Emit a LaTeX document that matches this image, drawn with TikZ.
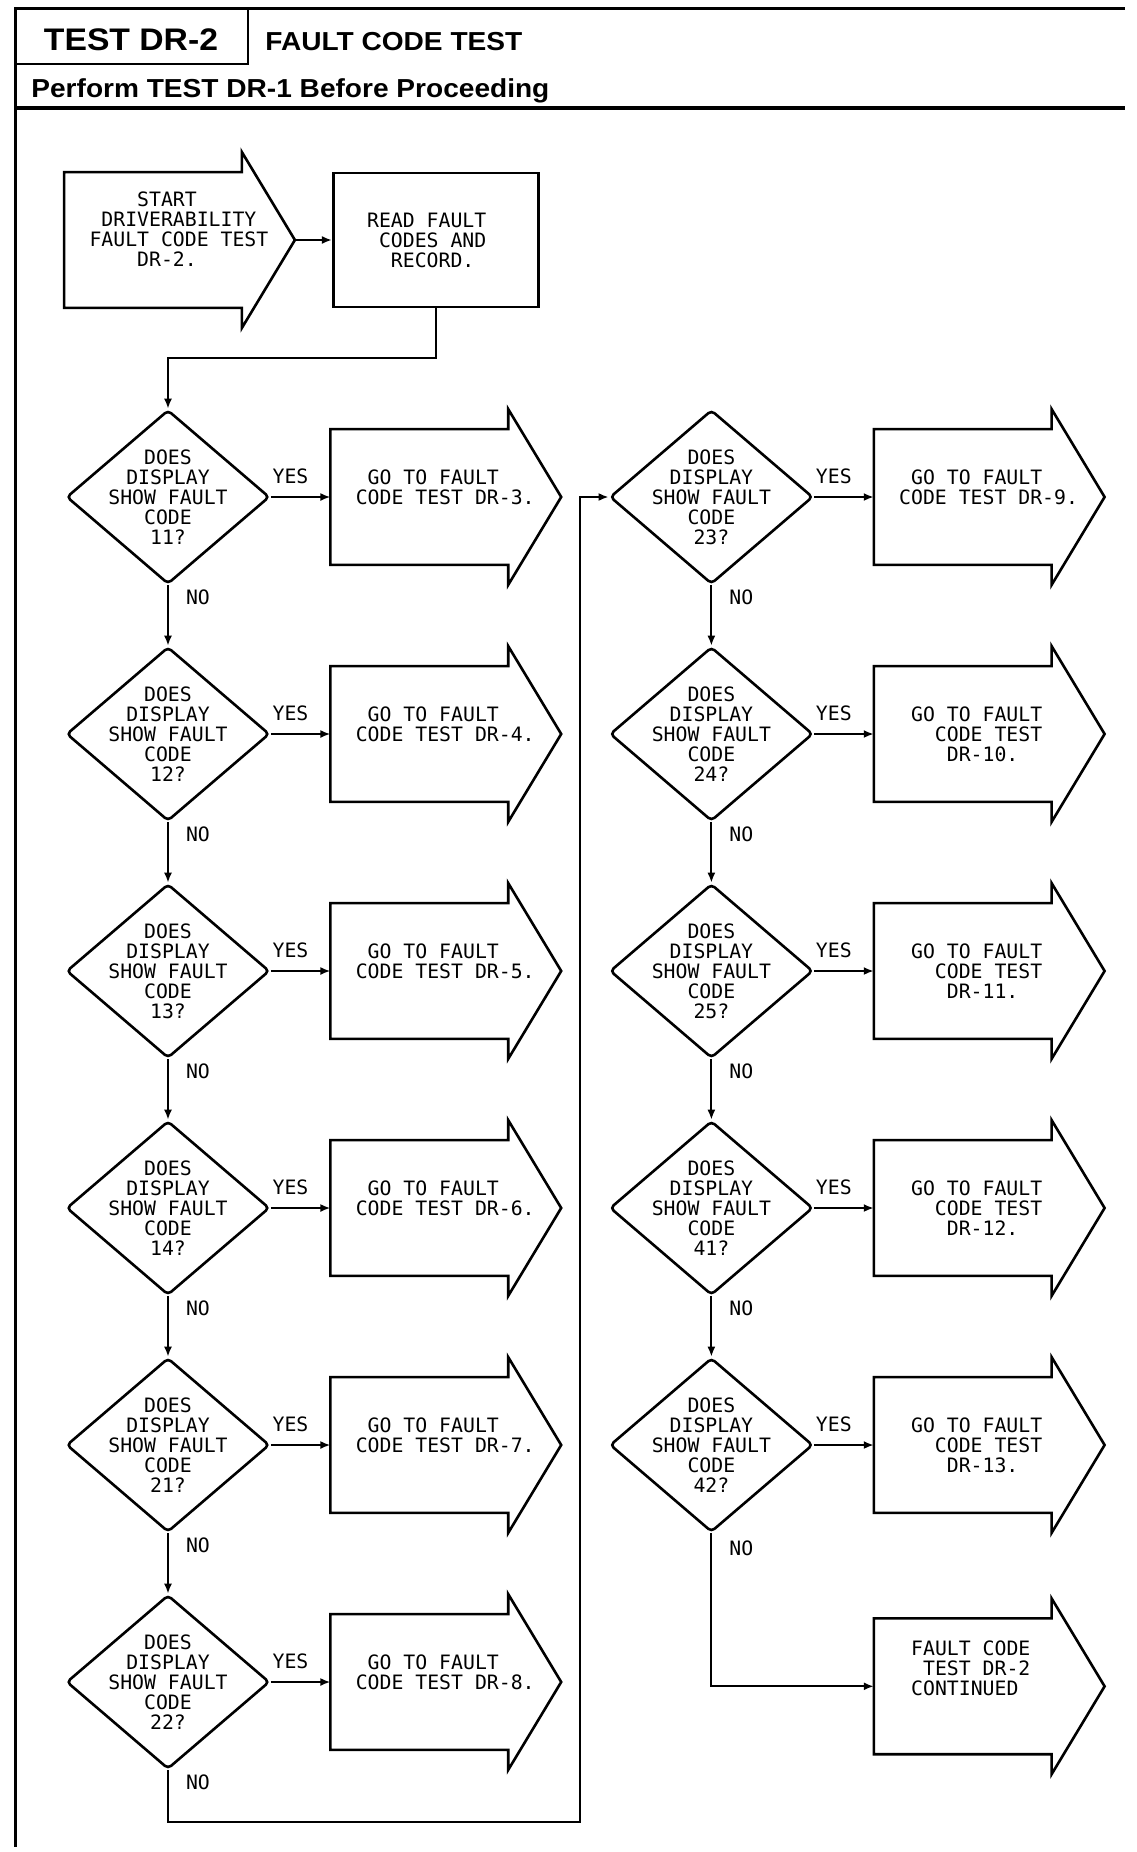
\documentclass[tikz,border=0pt]{standalone}
\usepackage{fontspec}
\usepackage{tikz}
\usetikzlibrary{shapes,arrows.meta,positioning}
\newfontfamily\plotfont{DejaVu Sans Mono}
\newfontfamily\headfont[FakeStretch=1.08]{Liberation Sans}
\newcommand\padc{\hphantom{0}}

\begin{document}
\begin{tikzpicture}[
    x=0.5pt, y=-0.5pt,
    >={Latex[length=5pt,width=4pt]},
    plot/.style={font=\plotfont\fontsize{9.9}{10}\selectfont},
    decision/.style={diamond, draw, line width=1.3pt, rounded corners=2pt, shape aspect=1.17,
        inner sep=-5pt, minimum width=101.5pt, minimum height=87pt, plot, align=center},
    gobox/.style={rectangle, inner sep=0pt, minimum width=88.5pt, minimum height=67.5pt},
    readbox/.style={rectangle, draw, line width=1.3pt, inner sep=0pt, minimum width=102.5pt,
        minimum height=67pt, plot, align=left},
    gotext/.style={plot, align=left, anchor=north west, inner sep=0pt},
    yes/.style={plot, above=6pt, pos=0.33, inner sep=0pt},
    no/.style={plot, right=8.5pt, pos=0.2, inner sep=0pt},
    flow/.style={->, line width=1pt},
    rule/.style={line width=1.5pt}
]
\useasboundingbox (0,0) rectangle (1136,1852);

    % Header
    \draw[rule] (15,7) -- (15,1847);
    \draw[rule] (15,8) -- (1125,8);
    \draw[line width=2pt] (15,108) -- (1125,108);
    \draw[line width=1pt] (15,64) -- (248,64) -- (248,8);
    \node[anchor=base, inner sep=0pt, font=\headfont\bfseries\fontsize{15.6}{18}\selectfont] (title) at (131,50) {TEST DR-2};
    \node[anchor=base west, inner sep=0pt, font=\headfont\bfseries\fontsize{13}{15}\selectfont] (subtitle) at (265,50) {FAULT CODE TEST};
    \node[anchor=base west, inner sep=0pt, font=\headfont\bfseries\fontsize{13}{15}\selectfont] (note) at (31,97) {Perform TEST DR-1 Before Proceeding};

    % Start
    \node[gobox] (start) at (153,240) {};
    \node[gotext] (starttxt) at ([shift={(25,-49)}]start.west) {\padc\padc\padc\padc START\\\padc DRIVERABILITY\\FAULT CODE TEST\\\padc\padc\padc\padc DR-2.};
    \node[readbox, right=45pt of start] (read) {READ FAULT\hspace*{9pt}\\\padc CODES AND\\\padc\padc RECORD.};

    % Left column
    \node[decision] (d11) at (168,497) {DOES\\DISPLAY\\SHOW FAULT\\CODE\\11?};
    \node[decision, below=30.2pt of d11] (d12) {DOES\\DISPLAY\\SHOW FAULT\\CODE\\12?};
    \node[decision, below=30.2pt of d12] (d13) {DOES\\DISPLAY\\SHOW FAULT\\CODE\\13?};
    \node[decision, below=30.2pt of d13] (d14) {DOES\\DISPLAY\\SHOW FAULT\\CODE\\14?};
    \node[decision, below=30.2pt of d14] (d21) {DOES\\DISPLAY\\SHOW FAULT\\CODE\\21?};
    \node[decision, below=30.2pt of d21] (d22) {DOES\\DISPLAY\\SHOW FAULT\\CODE\\22?};

    \node[gobox, right=29.8pt of d11] (g3) {};
    \node[gobox, right=29.8pt of d12] (g4) {};
    \node[gobox, right=29.8pt of d13] (g5) {};
    \node[gobox, right=29.8pt of d14] (g6) {};
    \node[gobox, right=29.8pt of d21] (g7) {};
    \node[gobox, right=29.8pt of d22] (g8) {};
    \node[gotext] (t3) at ([shift={(25,-27.5)}]g3.west) {\padc GO TO FAULT\\CODE TEST DR-3.};
    \node[gotext] (t4) at ([shift={(25,-27.5)}]g4.west) {\padc GO TO FAULT\\CODE TEST DR-4.};
    \node[gotext] (t5) at ([shift={(25,-27.5)}]g5.west) {\padc GO TO FAULT\\CODE TEST DR-5.};
    \node[gotext] (t6) at ([shift={(25,-27.5)}]g6.west) {\padc GO TO FAULT\\CODE TEST DR-6.};
    \node[gotext] (t7) at ([shift={(25,-27.5)}]g7.west) {\padc GO TO FAULT\\CODE TEST DR-7.};
    \node[gotext] (t8) at ([shift={(25,-27.5)}]g8.west) {\padc GO TO FAULT\\CODE TEST DR-8.};

    % Right column
    \node[decision, right=50.2pt of g3] (d23) {DOES\\DISPLAY\\SHOW FAULT\\CODE\\23?};
    \node[decision, below=30.2pt of d23] (d24) {DOES\\DISPLAY\\SHOW FAULT\\CODE\\24?};
    \node[decision, below=30.2pt of d24] (d25) {DOES\\DISPLAY\\SHOW FAULT\\CODE\\25?};
    \node[decision, below=30.2pt of d25] (d41) {DOES\\DISPLAY\\SHOW FAULT\\CODE\\41?};
    \node[decision, below=30.2pt of d41] (d42) {DOES\\DISPLAY\\SHOW FAULT\\CODE\\42?};

    \node[gobox, right=29.8pt of d23] (g9) {};
    \node[gobox, right=29.8pt of d24] (g10) {};
    \node[gobox, right=29.8pt of d25] (g11) {};
    \node[gobox, right=29.8pt of d41] (g12) {};
    \node[gobox, right=29.8pt of d42] (g13) {};
    \node[gobox, below=52.75pt of g13] (cont) {};
    \node[gotext] (t9) at ([shift={(25,-27.5)}]g9.west) {\padc GO TO FAULT\\CODE TEST DR-9.};
    \node[gotext] (t10) at ([shift={(25,-27.5)}]g10.west) {\padc GO TO FAULT\\\padc\padc\padc CODE TEST\\\padc\padc\padc\padc DR-10.};
    \node[gotext] (t11) at ([shift={(25,-27.5)}]g11.west) {\padc GO TO FAULT\\\padc\padc\padc CODE TEST\\\padc\padc\padc\padc DR-11.};
    \node[gotext] (t12) at ([shift={(25,-27.5)}]g12.west) {\padc GO TO FAULT\\\padc\padc\padc CODE TEST\\\padc\padc\padc\padc DR-12.};
    \node[gotext] (t13) at ([shift={(25,-27.5)}]g13.west) {\padc GO TO FAULT\\\padc\padc\padc CODE TEST\\\padc\padc\padc\padc DR-13.};
    \node[gotext] (conttxt) at ([shift={(37,-45.5)}]cont.west) {FAULT CODE\\\padc TEST DR-2\\CONTINUED};

    % Arrow outlines
    \foreach \b in {start,g3,g4,g5,g6,g7,g8,g9,g10,g11,g12,g13,cont}
        \draw[line width=1.3pt, line join=miter] (\b.south east) -- (\b.south west) -- (\b.north west) -- (\b.north east)
            -- ++(0,-20) -- ([xshift=26.5pt]\b.east) -- ([yshift=-10pt]\b.south east) -- cycle;

    % Connections
    \draw[flow] ([xshift=26.5pt]start.east) -- (read.west);
    \draw[flow] (read.south) -- ++(0,50) -| (d11.north);

    \draw[flow] (d11.east) -- node[yes] {YES} (g3.west);
    \draw[flow] (d12.east) -- node[yes] {YES} (g4.west);
    \draw[flow] (d13.east) -- node[yes] {YES} (g5.west);
    \draw[flow] (d14.east) -- node[yes] {YES} (g6.west);
    \draw[flow] (d21.east) -- node[yes] {YES} (g7.west);
    \draw[flow] (d22.east) -- node[yes] {YES} (g8.west);
    \draw[flow] (d23.east) -- node[yes] {YES} (g9.west);
    \draw[flow] (d24.east) -- node[yes] {YES} (g10.west);
    \draw[flow] (d25.east) -- node[yes] {YES} (g11.west);
    \draw[flow] (d41.east) -- node[yes] {YES} (g12.west);
    \draw[flow] (d42.east) -- node[yes] {YES} (g13.west);

    \draw[flow] (d11.south) -- node[no] {NO} (d12.north);
    \draw[flow] (d12.south) -- node[no] {NO} (d13.north);
    \draw[flow] (d13.south) -- node[no] {NO} (d14.north);
    \draw[flow] (d14.south) -- node[no] {NO} (d21.north);
    \draw[flow] (d21.south) -- node[no] {NO} (d22.north);
    \coordinate (loop) at (580,1822);
    \draw[flow] (d22.south) |- node[no, pos=0.12] {NO} (loop) |- (d23.west);

    \draw[flow] (d23.south) -- node[no] {NO} (d24.north);
    \draw[flow] (d24.south) -- node[no] {NO} (d25.north);
    \draw[flow] (d25.south) -- node[no] {NO} (d41.north);
    \draw[flow] (d41.south) -- node[no] {NO} (d42.north);
    \draw[flow] (d42.south) |- node[no, pos=0.05] {NO} (cont.west);
\end{tikzpicture}
\end{document}
